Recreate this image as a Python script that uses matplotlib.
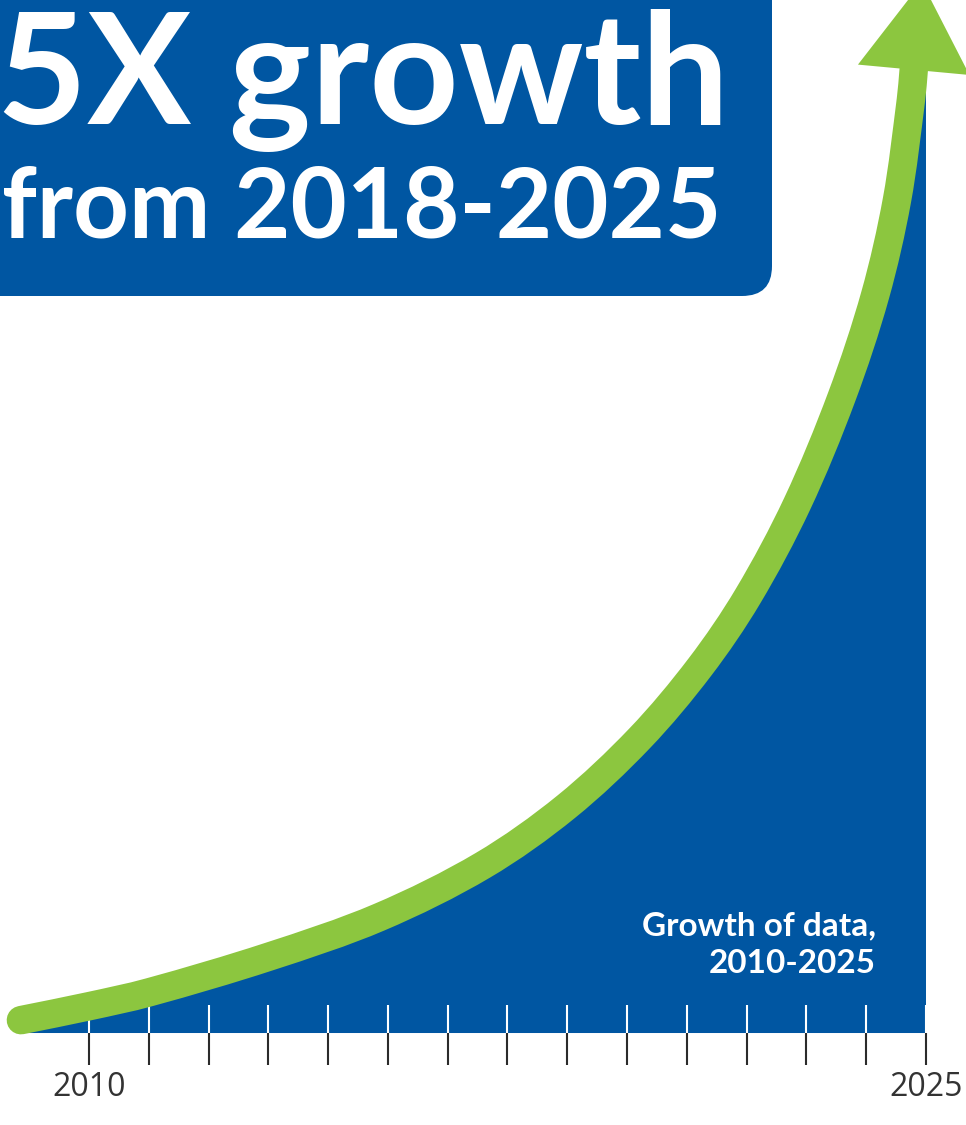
import numpy as np
import matplotlib.pyplot as plt
from matplotlib.patches import FancyBboxPatch, Polygon, PathPatch
from matplotlib.path import Path
from matplotlib.transforms import IdentityTransform

# curve (year, relative data volume)
years = [2008.78, 2010.00, 2011.08, 2013.21, 2015.20, 2017.06, 2018.55, 2019.87,
         2020.95, 2021.81, 2022.69, 2023.49, 2024.09, 2024.48, 2024.73, 2024.78]
volume = [2.4, 5.0, 7.6, 14.2, 21.6, 31.3, 42.2, 55.0,
          68.3, 81.5, 98.7, 118.7, 137.7, 155.4, 174.1, 179.7]

tick_years = np.linspace(2010, 2025, 15)
tick_labels = {2010: "2010", 2025: "2025"}

title_line1 = "5X growth"
title_line2 = "from 2018-2025"
note_lines = ["Growth of data,", "2010-2025"]

BLUE = "#0056A2"
GREEN = "#8CC63F"
DARK = "#2b2b2b"


def smooth_path(ax, xs, ys):
    # cubic bezier through every point, tangents weighted by on-screen chord length
    pts = np.column_stack([xs, ys])
    disp = ax.transData.transform(pts)
    t = np.concatenate([[0], np.cumsum(np.hypot(*np.diff(disp, axis=0).T))])
    m = np.zeros_like(pts)
    m[0] = (pts[1] - pts[0]) / (t[1] - t[0])
    m[-1] = (pts[-1] - pts[-2]) / (t[-1] - t[-2])
    m[1:-1] = (pts[2:] - pts[:-2]) / (t[2:] - t[:-2])[:, None]
    verts = [pts[0]]
    codes = [Path.MOVETO]
    for i in range(len(pts) - 1):
        h = (t[i + 1] - t[i]) / 3
        verts += [pts[i] + m[i] * h, pts[i + 1] - m[i + 1] * h, pts[i + 1]]
        codes += [Path.CURVE4] * 3
    return verts, codes


fig = plt.figure(figsize=(9.66, 11.25), dpi=100)
ax = fig.add_axes([0, 0, 1, 1])
ax.set_xlim(2008.405, 2025.717)
ax.set_ylim(-17.16, 192.72)
ax.axis("off")

verts, codes = smooth_path(ax, years, volume)

# blue area under the curve, closed off at 2025
area_verts = verts + [(2025, volume[-1]), (2025, 0), (years[0], 0), (years[0], volume[0])]
area_codes = codes + [Path.LINETO, Path.LINETO, Path.LINETO, Path.CLOSEPOLY]
ax.add_patch(PathPatch(Path(area_verts, area_codes), fc=BLUE, ec="none", zorder=1))

# ticks: white above the baseline, dark below
ax.vlines(tick_years, 0, 5.2, color="white", lw=1.5, zorder=2)
ax.vlines(tick_years, -5.97, 0, color=DARK, lw=1.5, zorder=2)
for yr, lab in tick_labels.items():
    ax.text(yr, -10.1, lab, ha="center", va="center", fontsize=23,
            family="Open Sans", color="#333333")

# green growth line
ax.add_patch(PathPatch(Path(verts, codes), fill=False, ec=GREEN, lw=20.5,
                       capstyle="round", joinstyle="round", zorder=3))

# arrow head built from the direction of the last segment
p0, p1 = ax.transData.transform([(years[-2], volume[-2]), (years[-1], volume[-1])])
d = (p1 - p0) / np.hypot(*(p1 - p0))
perp = np.array([d[1], -d[0]])
head = [p1 + 56 * perp, p1 + 88 * d, p1 - 56 * perp]
ax.add_patch(Polygon(head, closed=True, color=GREEN, lw=0,
                     transform=IdentityTransform(), zorder=4))

note_y = [935, 973]

# overlay in pixel units for the title block
ov = fig.add_axes([0, 0, 1, 1])
ov.set_xlim(0, 966)
ov.set_ylim(1125, 0)
ov.axis("off")
ov.patch.set_alpha(0)

ov.add_patch(FancyBboxPatch((-80, -80), 852, 376,
                            boxstyle="round,pad=0,rounding_size=30",
                            fc=BLUE, ec="none"))
ov.text(729, 124, title_line1, ha="right", va="baseline", fontsize=112,
        family="Lato", weight="bold", color="white")
ov.text(721, 238, title_line2, ha="right", va="baseline", fontsize=70,
        family="Lato", weight="bold", color="white")
for line, yb in zip(note_lines, note_y):
    ov.text(876, yb, line, ha="right", va="baseline", fontsize=24,
            family="Lato", weight="bold", color="white")

fig.savefig("out.png", dpi=100)
